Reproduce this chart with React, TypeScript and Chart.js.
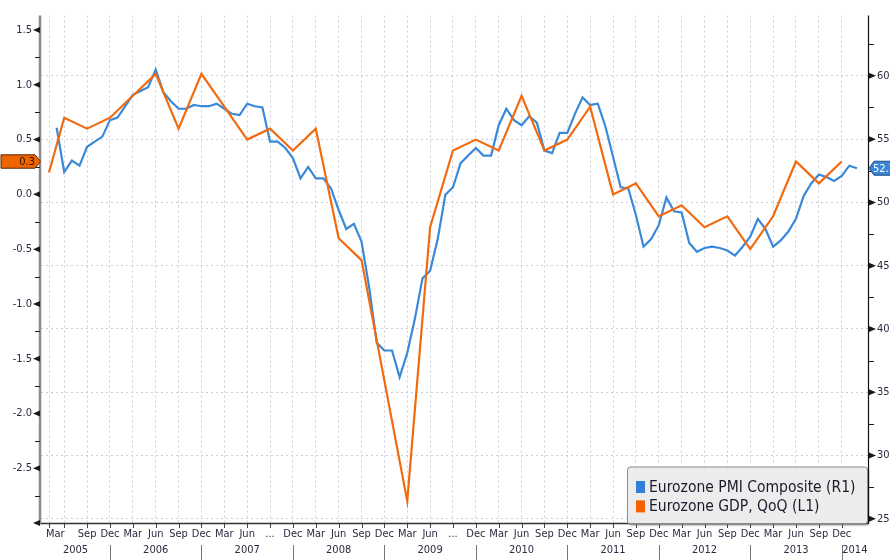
import React, { useEffect, useRef } from 'react';
import { Chart, registerables } from 'chart.js';

Chart.register(...registerables);

const FONT = "'DejaVu Sans Condensed', 'Liberation Sans Narrow', 'DejaVu Sans', sans-serif";
const TEXT = '#2a2a40';
const BLUE = '#3a89d8';
const ORANGE = '#f26a10';

// months counted from end of Dec 2004 (1 = Jan 2005)
const pmiStartMonth = 5;
const pmiValues = [
  55.9, 52.4, 53.3, 52.9, 54.4, 54.8, 55.2, 56.5,
  56.7, 57.6, 58.5, 58.8, 59.1, 60.5, 58.7, 58.0, 57.4, 57.4, 57.7, 57.6,
  57.6, 57.8, 57.4, 57.0, 56.9, 57.8, 57.6, 57.5, 54.8, 54.8, 54.3, 53.5,
  51.9, 52.8, 51.9, 51.9, 51.1, 49.4, 47.9, 48.3, 46.9, 43.3, 38.9, 38.3,
  38.3, 36.2, 38.1, 40.8, 44.0, 44.6, 47.1, 50.6, 51.2, 53.1, 53.7, 54.3,
  53.7, 53.7, 56.1, 57.4, 56.5, 56.1, 56.8, 56.3, 54.1, 53.9, 55.5, 55.5,
  57.0, 58.3, 57.7, 57.8, 56.0, 53.6, 51.2, 51.1, 49.0, 46.5, 47.1, 48.2,
  50.4, 49.3, 49.2, 46.8, 46.1, 46.4, 46.5, 46.4, 46.2, 45.8, 46.5, 47.3,
  48.7, 47.9, 46.5, 47.0, 47.7, 48.7, 50.5, 51.5, 52.2, 52.0, 51.7, 52.1,
  52.9, 52.7,
];

const gdpMonths = [
  4, 6, 9, 12, 15, 18, 21, 24, 27, 30, 33, 36, 39, 42, 45, 48, 51, 54,
  57, 60, 63, 66, 69, 72, 75, 78, 81, 84, 87, 90, 93, 96, 99, 102, 105, 108,
];
const gdpValues = [
  0.2, 0.7, 0.6, 0.7, 0.9, 1.1, 0.6, 1.1, 0.8, 0.5, 0.6, 0.4, 0.6, -0.4, -0.6, -1.7, -2.8, -0.3,
  0.4, 0.5, 0.4, 0.9, 0.4, 0.5, 0.8, 0.0, 0.1, -0.2, -0.1, -0.3, -0.2, -0.5, -0.2, 0.3, 0.1, 0.3,
];

const xTickMonths = [
  4, 6, 9, 12, 15, 18, 21, 24, 27, 30, 33, 36, 39, 42, 45, 48, 51, 54,
  57, 60, 63, 66, 69, 72, 75, 78, 81, 84, 87, 90, 93, 96, 99, 102, 105, 108,
];
const xTickLabels = [
  '    Mar', '', 'Sep', 'Dec', 'Mar', 'Jun', 'Sep', 'Dec', 'Mar', 'Jun', '...', 'Dec', 'Mar', 'Jun', 'Sep', 'Dec', 'Mar', 'Jun',
  '...', 'Dec', 'Mar', 'Jun', 'Sep', 'Dec', 'Mar', 'Jun', 'Sep', 'Dec', 'Mar', 'Jun', 'Sep', 'Dec', 'Mar', 'Jun', 'Sep', 'Dec',
];
const yearLabels = ['2005', '2006', '2007', '2008', '2009', '2010', '2011', '2012', '2013', '2014'];
const yearStartMonths = [0, 12, 24, 36, 48, 60, 72, 84, 96, 108];

const leftTickValues = [-3, -2.5, -2, -1.5, -1, -0.5, 0, 0.5, 1, 1.5];
const leftTickLabels = ['', '-2.5', '-2.0', '-1.5', '-1.0', '-0.5', '0.0', '0.5', '1.0', '1.5'];
const rightTickValues = [25, 30, 35, 40, 45, 50, 55, 60];
const rightTickLabels = ['25', '30', '35', '40', '45', '50', '55', '60'];

const legendLabels = ['Eurozone PMI Composite (R1)', 'Eurozone GDP, QoQ (L1)'];

const X_MIN = 2.95;
const X_MAX = 111.45;
const L_MIN = -3.0;
const L_MAX = 1.632;
const R_MIN = 24.67;
const R_MAX = 64.76;

function font(size: number) {
  return `${size}px ${FONT}`;
}

const decorPlugin = {
  id: 'decor',
  afterDraw(chart: any) {
    const { ctx, chartArea: a, scales } = chart;
    const xs = scales.x;
    const yL = scales.yL;
    const yR = scales.yR;
    const H = chart.height;
    const W = chart.width;
    ctx.save();

    const line = (x1: number, y1: number, x2: number, y2: number) => {
      ctx.beginPath();
      ctx.moveTo(x1, y1);
      ctx.lineTo(x2, y2);
      ctx.stroke();
    };

    // axis lines
    ctx.setLineDash([]);
    ctx.strokeStyle = '#8a8a8a';
    ctx.lineWidth = 2.5;
    line(a.left - 1, a.top, a.left - 1, a.bottom + 1.5);
    ctx.strokeStyle = '#111';
    ctx.lineWidth = 1.2;
    line(a.right + 0.5, a.top, a.right + 0.5, a.bottom + 1);
    ctx.strokeStyle = '#333';
    ctx.lineWidth = 1.5;
    line(a.left, a.bottom + 0.5, a.right, a.bottom + 0.5);

    // x tick marks
    ctx.strokeStyle = '#444';
    ctx.lineWidth = 1;
    xTickMonths.forEach((t) => {
      const px = Math.round(xs.getPixelForValue(t)) + 0.5;
      line(px, a.bottom + 1, px, a.bottom + 5);
    });

    // y tick marks
    ctx.fillStyle = '#1a1a1a';
    ctx.strokeStyle = '#1a1a1a';
    const tri = (px: number, py: number, dir: number) => {
      ctx.beginPath();
      ctx.moveTo(px, py - 3);
      ctx.lineTo(px + dir * 7, py);
      ctx.lineTo(px, py + 3);
      ctx.closePath();
      ctx.fill();
    };
    leftTickValues.forEach((v, i) => {
      const py = yL.getPixelForValue(v);
      tri(a.left - 1, py, -1);
      if (i < leftTickValues.length - 1) {
        const mid = yL.getPixelForValue((v + leftTickValues[i + 1]) / 2);
        line(a.left - 6, Math.round(mid) + 0.5, a.left - 1, Math.round(mid) + 0.5);
      }
    });
    rightTickValues.forEach((v, i) => {
      const py = yR.getPixelForValue(v);
      tri(a.right + 1, py, 1);
      const next = i < rightTickValues.length - 1 ? rightTickValues[i + 1] : v + 5;
      const midV = (v + next) / 2;
      if (midV < R_MAX) {
        const mid = yR.getPixelForValue(midV);
        line(a.right + 1, Math.round(mid) + 0.5, a.right + 6, Math.round(mid) + 0.5);
      }
    });

    // year row
    ctx.font = font(11);
    ctx.fillStyle = TEXT;
    ctx.textAlign = 'center';
    ctx.textBaseline = 'middle';
    ctx.strokeStyle = '#777';
    ctx.lineWidth = 1;
    yearLabels.forEach((lab, i) => {
      const s = Math.max(yearStartMonths[i], X_MIN);
      const e = Math.min(yearStartMonths[i] + 12, X_MAX);
      const p1 = xs.getPixelForValue(s);
      const p2 = xs.getPixelForValue(e);
      ctx.fillText(lab, (p1 + p2) / 2, a.bottom + 27);
      if (i > 0) {
        const px = Math.round(xs.getPixelForValue(yearStartMonths[i])) + 0.5;
        line(px, a.bottom + 22, px, H);
      }
    });

    // last value tags
    const lastGdp = gdpValues[gdpValues.length - 1];
    const gy = yL.getPixelForValue(lastGdp);
    ctx.beginPath();
    ctx.moveTo(1, gy - 6.7);
    ctx.lineTo(a.left - 6, gy - 6.7);
    ctx.lineTo(a.left - 0.5, gy);
    ctx.lineTo(a.left - 6, gy + 6.7);
    ctx.lineTo(1, gy + 6.7);
    ctx.closePath();
    ctx.fillStyle = '#f06400';
    ctx.fill();
    ctx.strokeStyle = '#5a2800';
    ctx.lineWidth = 1;
    ctx.stroke();
    ctx.fillStyle = '#2a1000';
    ctx.textAlign = 'right';
    ctx.fillText(lastGdp.toFixed(1), a.left - 6, gy + 0.5);

    const lastPmi = pmiValues[pmiValues.length - 1];
    const py = yR.getPixelForValue(lastPmi);
    ctx.beginPath();
    ctx.moveTo(a.right + 1, py);
    ctx.lineTo(a.right + 6, py - 7);
    ctx.lineTo(W + 2, py - 7);
    ctx.lineTo(W + 2, py + 7);
    ctx.lineTo(a.right + 6, py + 7);
    ctx.closePath();
    ctx.fillStyle = '#3a86d4';
    ctx.fill();
    ctx.strokeStyle = '#1f4f8c';
    ctx.stroke();
    ctx.fillStyle = '#ffffff';
    ctx.textAlign = 'left';
    ctx.fillText(lastPmi.toFixed(1), a.right + 5, py + 0.5);

    // legend
    const bw = 240;
    const bh = 57;
    const bx = a.right - bw - 1;
    const by = a.bottom - bh + 0.5;
    ctx.save();
    ctx.shadowColor = 'rgba(0,0,0,0.35)';
    ctx.shadowOffsetX = 2;
    ctx.shadowOffsetY = 2;
    ctx.shadowBlur = 2;
    ctx.beginPath();
    ctx.roundRect(bx, by, bw, bh, 3);
    ctx.fillStyle = '#ececec';
    ctx.fill();
    ctx.restore();
    ctx.beginPath();
    ctx.roundRect(bx + 0.5, by + 0.5, bw, bh, 3);
    ctx.strokeStyle = '#8e8e8e';
    ctx.lineWidth = 1;
    ctx.stroke();
    const colors = ['#2f7fd6', '#f56000'];
    ctx.font = font(15.5);
    ctx.textAlign = 'left';
    ctx.textBaseline = 'middle';
    legendLabels.forEach((lab, i) => {
      const cy = by + 20.5 + i * 19.4;
      ctx.fillStyle = colors[i];
      ctx.fillRect(bx + 9, cy - 6, 9, 12);
      ctx.fillStyle = '#1a1a2a';
      ctx.fillText(lab, bx + 22, cy + 0.5);
    });

    ctx.restore();
  },
};

export default function App() {
  const canvasRef = useRef<HTMLCanvasElement | null>(null);

  useEffect(() => {
    const canvas = canvasRef.current;
    if (!canvas) return;
    const pmiData = pmiValues.map((v, i) => ({ x: pmiStartMonth + i, y: v }));
    const gdpData = gdpValues.map((v, i) => ({ x: gdpMonths[i], y: v }));
    const gridColor = '#cacddd';

    const chart = new Chart(canvas, {
      type: 'line',
      data: {
        datasets: [
          {
            label: legendLabels[1],
            data: gdpData,
            yAxisID: 'yL',
            borderColor: ORANGE,
            borderWidth: 2.2,
            pointRadius: 0,
            tension: 0,
          },
          {
            label: legendLabels[0],
            data: pmiData,
            yAxisID: 'yR',
            borderColor: BLUE,
            borderWidth: 2.2,
            pointRadius: 0,
            tension: 0,
          },
        ],
      },
      options: {
        animation: false,
        responsive: false,
        devicePixelRatio: 1,
        events: [],
        layout: { padding: { top: 7, left: 0, right: 0, bottom: 0 } },
        plugins: {
          legend: { display: false },
          tooltip: { enabled: false },
        },
        scales: {
          x: {
            type: 'linear',
            min: X_MIN,
            max: X_MAX,
            afterBuildTicks: (s: any) => {
              s.ticks = xTickMonths.map((v) => ({ value: v }));
            },
            afterFit: (s: any) => {
              s.height = 37;
            },
            grid: { color: gridColor, lineWidth: 1, drawTicks: false },
            border: { display: false, dash: [2, 3] },
            ticks: {
              autoSkip: false,
              maxRotation: 0,
              minRotation: 0,
              padding: 5,
              color: TEXT,
              font: { family: FONT, size: 11 },
              callback: (_v: any, i: number) => xTickLabels[i],
            },
          },
          yL: {
            type: 'linear',
            position: 'left',
            min: L_MIN,
            max: L_MAX,
            afterBuildTicks: (s: any) => {
              s.ticks = leftTickValues.map((v) => ({ value: v }));
            },
            afterFit: (s: any) => {
              s.width = 41;
            },
            grid: { display: false, drawTicks: false },
            border: { display: false },
            ticks: {
              padding: 9,
              color: TEXT,
              font: { family: FONT, size: 11 },
              callback: (_v: any, i: number) => leftTickLabels[i],
            },
          },
          yR: {
            type: 'linear',
            position: 'right',
            min: R_MIN,
            max: R_MAX,
            afterBuildTicks: (s: any) => {
              s.ticks = rightTickValues.map((v) => ({ value: v }));
            },
            afterFit: (s: any) => {
              s.width = 22;
            },
            grid: { color: gridColor, lineWidth: 1, drawTicks: false },
            border: { display: false, dash: [2, 3] },
            ticks: {
              padding: 9,
              color: TEXT,
              font: { family: FONT, size: 11 },
              callback: (_v: any, i: number) => rightTickLabels[i],
            },
          },
        },
      },
      plugins: [decorPlugin],
    } as any);

    return () => chart.destroy();
  }, []);

  return (
    <div style={{ position: 'fixed', left: 0, top: 0, width: 890, height: 560, background: '#fff' }}>
      <canvas ref={canvasRef} width={890} height={560} style={{ display: 'block' }} />
    </div>
  );
}
